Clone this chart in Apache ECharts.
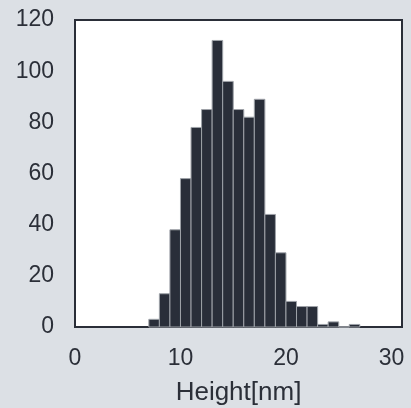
<!DOCTYPE html>
<html><head><meta charset="utf-8">
<script src="https://cdn.jsdelivr.net/npm/echarts@6/dist/echarts.min.js"></script>
<style>html,body{margin:0;padding:0;background:#dce0e5}#c{width:411px;height:408px}</style>
</head><body><div id="c"></div>
<script>
// histogram bins (left edges, nm) and counts
var binStarts = [7, 8, 9, 10, 11, 12, 13, 14, 15, 16, 17, 18, 19, 20, 21, 22, 23, 24, 25, 26];
var counts    = [3, 13, 38, 58, 78, 85, 112, 96, 85, 82, 89, 44, 29, 10, 8, 8, 1, 2, 0, 1];
var binWidth = 1;
var xTicks = [0, 10, 20, 30];
var yTicks = [0, 20, 40, 60, 80, 100, 120];

var data = binStarts.map(function (s, i) { return [s, s + binWidth, counts[i]]; });
var chart = echarts.init(document.getElementById('c'));
var txt = '#2b2f38';
chart.setOption({
  backgroundColor: '#dce0e5',
  animation: false,
  grid: { left: 75, right: 9, top: 20, bottom: 81, show: true, backgroundColor: '#ffffff', borderColor: '#2a2e38', borderWidth: 2,
          outerBoundsMode: 'none', containLabel: false },
  xAxis: {
    type: 'value', min: 0, max: 31, interval: 10,
    axisLine: { show: false }, axisTick: { show: false }, splitLine: { show: false },
    axisLabel: { fontSize: 23, color: txt, margin: 20, fontFamily: 'Liberation Sans',
      formatter: function (v) { return xTicks.indexOf(v) >= 0 ? String(v) : ''; } },
    name: 'Height[nm]', nameLocation: 'middle', nameGap: 53,
    nameTextStyle: { fontSize: 26, color: txt, fontFamily: 'Liberation Sans' }
  },
  yAxis: {
    type: 'value', min: yTicks[0], max: yTicks[yTicks.length - 1], interval: 20,
    axisLine: { show: false }, axisTick: { show: false }, splitLine: { show: false },
    axisLabel: { fontSize: 23, color: txt, margin: 21, fontFamily: 'Liberation Sans', padding: [2, 0, 0, 0] }
  },
  series: [{
    type: 'custom',
    data: data,
    encode: { x: [0, 1], y: 2 },
    renderItem: function (params, api) {
      var p0 = api.coord([api.value(0), api.value(2)]);
      var p1 = api.coord([api.value(1), 0]);
      return {
        type: 'rect',
        shape: { x: p0[0], y: p0[1], width: p1[0] - p0[0], height: p1[1] - p0[1] },
        style: { fill: '#292e39', stroke: '#9ea2a8', lineWidth: 1 }
      };
    }
  }]
});
</script></body></html>
